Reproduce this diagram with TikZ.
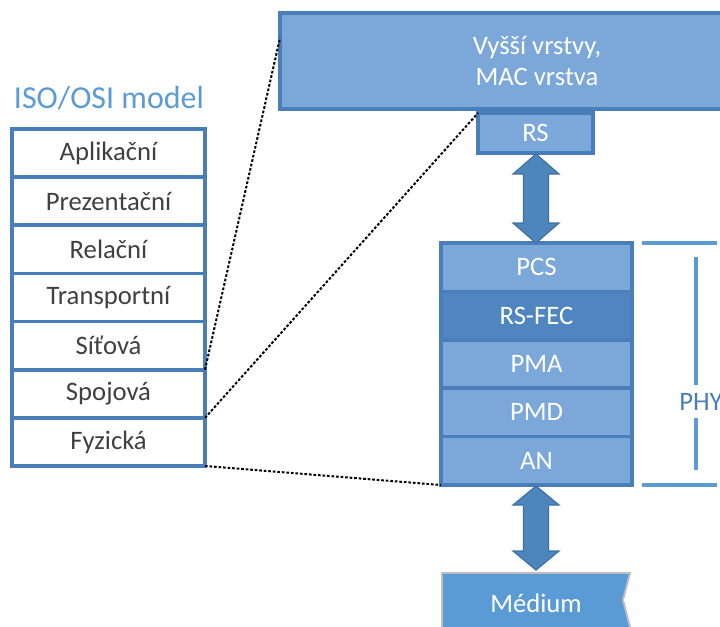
\documentclass[tikz,border=0pt]{standalone}
\usepackage{fontspec}
\setmainfont{Carlito}
\definecolor{boxfill}{RGB}{124,167,217}
\definecolor{boxline}{RGB}{74,126,187}
\definecolor{fecfill}{RGB}{79,134,192}
\definecolor{arrfill}{RGB}{77,134,189}
\definecolor{arrline}{RGB}{65,113,160}
\definecolor{titleblue}{RGB}{91,155,213}
\definecolor{txtgrey}{RGB}{64,64,64}
\definecolor{medfill}{RGB}{91,155,213}
\definecolor{medline}{RGB}{190,190,190}
\begin{document}
\begin{tikzpicture}[x=0.75pt,y=-0.75pt,
  osicell/.style={draw=boxline,line width=2.8pt,fill=white,minimum width=193*0.75pt,minimum height=48.14*0.75pt,inner sep=0pt,outer sep=0pt,text=txtgrey,font=\fontsize{20}{23}\selectfont},
  phycell/.style={draw=boxline,line width=2.8pt,fill=boxfill,minimum width=191*0.75pt,minimum height=48.4*0.75pt,inner sep=0pt,outer sep=0pt,text=white,font=\fontsize{20}{23}\selectfont},
  dotline/.style={black,line width=1.5pt,dash pattern=on 2pt off 1.4pt},
  dblarrow/.style={fill=arrfill,draw=arrline,line width=0.9pt,line join=miter},
  brk/.style={draw=titleblue,line width=2.6pt}
]
\useasboundingbox (0,0) rectangle (720,626);
\clip (0,0) rectangle (720,626);

% title
\node[text=titleblue,font=\fontsize{24}{28}\selectfont] (title) at (109,98) {ISO/OSI model};

% OSI table
\node[osicell] (l7) at (108.5,153.1) {Aplikační};
\node[osicell] (l6) at (108.5,201.2) {Prezentační};
\node[osicell] (l5) at (108.5,249.4) {Relační};
\node[osicell] (l4) at (108.5,297.5) {Transportní};
\node[osicell] (l3) at (108.5,345.6) {Síťová};
\node[osicell] (l2) at (108.5,393.8) {Spojová};
\node[osicell] (l1) at (108.5,441.9) {Fyzická};

% upper layers box
\node[draw=boxline,line width=2.8pt,fill=boxfill,minimum width=514*0.75pt,minimum height=96*0.75pt,inner sep=0pt,outer sep=0pt,text=white,align=center,font=\fontsize{20}{23.5}\selectfont] (mac) at (537,61) {Vyšší vrstvy,\\MAC vrstva};

% RS
\node[draw=boxline,line width=2.8pt,fill=boxfill,minimum width=115*0.75pt,minimum height=40*0.75pt,inner sep=0pt,outer sep=0pt,text=white,font=\fontsize{20}{23}\selectfont] (rs) at (535.5,133) {RS};

% PHY stack
\node[phycell] (pcs) at (536.5,267.2) {PCS};
\node[phycell,fill=fecfill] (fec) at (536.5,315.6) {RS-FEC};
\node[phycell] (pma) at (536.5,364.0) {PMA};
\node[phycell] (pmd) at (536.5,412.4) {PMD};
\node[phycell] (an) at (536.5,460.8) {AN};

% double arrows
\coordinate (a1t) at (536,154);
\coordinate (a1b) at (536,243);
\draw[dblarrow] (a1t) -- ++(23,20) -- ++(-10.5,0) -- ++(0,49) -- ++(10.5,0) -- (a1b) -- ++(-23,-20) -- ++(10.5,0) -- ++(0,-49) -- ++(-10.5,0) -- cycle;
\coordinate (a2t) at (536,486);
\coordinate (a2b) at (536,570);
\draw[dblarrow] (a2t) -- ++(23,19) -- ++(-10.5,0) -- ++(0,46) -- ++(10.5,0) -- (a2b) -- ++(-23,-19) -- ++(10.5,0) -- ++(0,-46) -- ++(-10.5,0) -- cycle;

% medium
\draw[fill=medfill,draw=medline,line width=1.4pt] (442,573) -- (630,573) -- (623,600) -- (630,627) -- (630,640) -- (442,640) -- cycle;
\node[text=white,font=\fontsize{20}{23}\selectfont] (med) at (536,603) {Médium};

% PHY bracket
\coordinate (bt1) at (642,243);
\coordinate (bt2) at (717,243);
\coordinate (bb1) at (642,485);
\coordinate (bb2) at (717,485);
\draw[brk] (bt1) -- (bt2);
\draw[brk] (bb1) -- (bb2);
\node[anchor=west,inner sep=0pt,text=boxline,font=\fontsize{20}{23}\selectfont] (phy) at (679,402) {PHY};
\draw[brk] (696,257) -- (696,385);
\draw[brk] (696,418) -- (696,470);

% dotted zoom lines
\draw[dotline] (l3.south east) -- (mac.west |- 0,38);
\draw[dotline] (l2.south east) -- (rs.north west);
\draw[dotline] (l1.south east) -- (an.south west);
\end{tikzpicture}
\end{document}
